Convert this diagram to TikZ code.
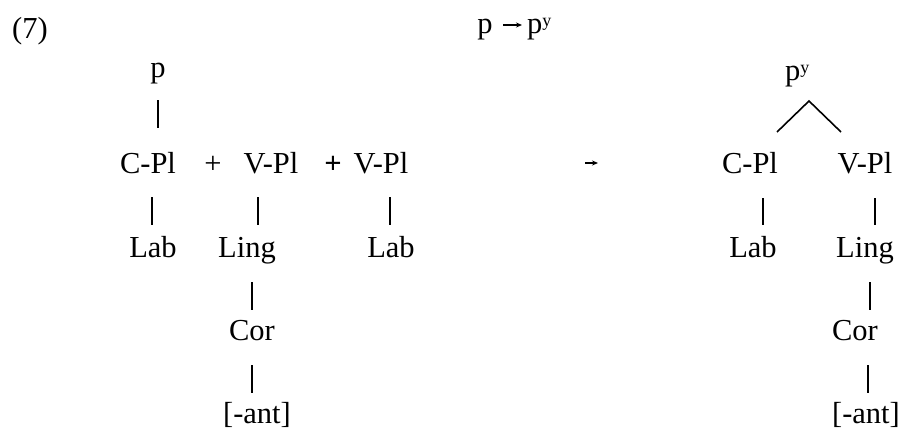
\documentclass[tikz,border=0pt]{standalone}
\usepackage{fontspec}
\setmainfont{Liberation Serif}
\usetikzlibrary{arrows.meta}
\newcommand{\supy}{\raisebox{6.5pt}{\fontsize{18}{18}\selectfont y}}
\begin{document}
\begin{tikzpicture}[x=1pt,y=-1pt,
  lbl/.style={anchor=base,inner sep=0pt,font=\fontsize{30.5}{36}\selectfont},
  ln/.style={line width=1.6pt},
  arr/.style={line width=1.4pt,-{Stealth[length=6pt,width=5pt]}}]
\useasboundingbox (0,0) rectangle (906,439);
\node[lbl,anchor=base west] (num) at (12,38) {(7)};
% top formula
\node[lbl] (tp) at (485,33) {p};
\node[lbl,anchor=base west] (tpy) at (527,33) {p\supy};
\coordinate (ta1) at (503,25); \coordinate (ta2) at (522,25);
\draw[arr] (ta1) -- (ta2);
% left structure
\node[lbl] (p) at (158,77) {p};
\node[lbl] (cpl) at (148,173) {C-Pl};
\node[lbl] (plus1) at (213,173) {+};
\node[lbl] (vpl) at (271,173) {V-Pl};
\node[lbl] (plus2) at (333,173) {\textbf{+}};
\node[lbl] (vpl2) at (381,173) {V-Pl};
\node[lbl] (lab) at (153,257) {Lab};
\node[lbl] (ling) at (247,257) {Ling};
\node[lbl] (lab2) at (391,257) {Lab};
\node[lbl] (cor) at (252,340) {Cor};
\node[lbl] (ant) at (257,423) {[-ant]};
\coordinate (a1) at (158,100); \coordinate (a2) at (158,128);
\coordinate (b1) at (152,197); \coordinate (b2) at (152,225);
\coordinate (c1) at (258,197); \coordinate (c2) at (258,225);
\coordinate (d1) at (390,197); \coordinate (d2) at (390,225);
\coordinate (e1) at (252,282); \coordinate (e2) at (252,310);
\coordinate (f1) at (252,365); \coordinate (f2) at (252,393);
\draw[ln] (a1) -- (a2);
\draw[ln] (b1) -- (b2);
\draw[ln] (c1) -- (c2);
\draw[ln] (d1) -- (d2);
\draw[ln] (e1) -- (e2);
\draw[ln] (f1) -- (f2);
% middle arrow
\coordinate (m1) at (585,163); \coordinate (m2) at (598,163);
\draw[arr] (m1) -- (m2);
% right structure
\node[lbl,anchor=base west] (rpy) at (785,80) {p\supy};
\node[lbl] (rcpl) at (750,173) {C-Pl};
\node[lbl] (rvpl) at (865,173) {V-Pl};
\node[lbl] (rlab) at (753,257) {Lab};
\node[lbl] (rling) at (865,257) {Ling};
\node[lbl] (rcor) at (855,340) {Cor};
\node[lbl] (rant) at (866,423) {[-ant]};
\coordinate (apex) at (809,101);
\coordinate (bl) at (777,132); \coordinate (br) at (841,132);
\draw[ln] (bl) -- (apex) -- (br);
\coordinate (g1) at (763,198); \coordinate (g2) at (763,225);
\coordinate (h1) at (875,198); \coordinate (h2) at (875,225);
\coordinate (i1) at (870,282); \coordinate (i2) at (870,310);
\coordinate (j1) at (868,365); \coordinate (j2) at (868,393);
\draw[ln] (g1) -- (g2);
\draw[ln] (h1) -- (h2);
\draw[ln] (i1) -- (i2);
\draw[ln] (j1) -- (j2);
\end{tikzpicture}
\end{document}
